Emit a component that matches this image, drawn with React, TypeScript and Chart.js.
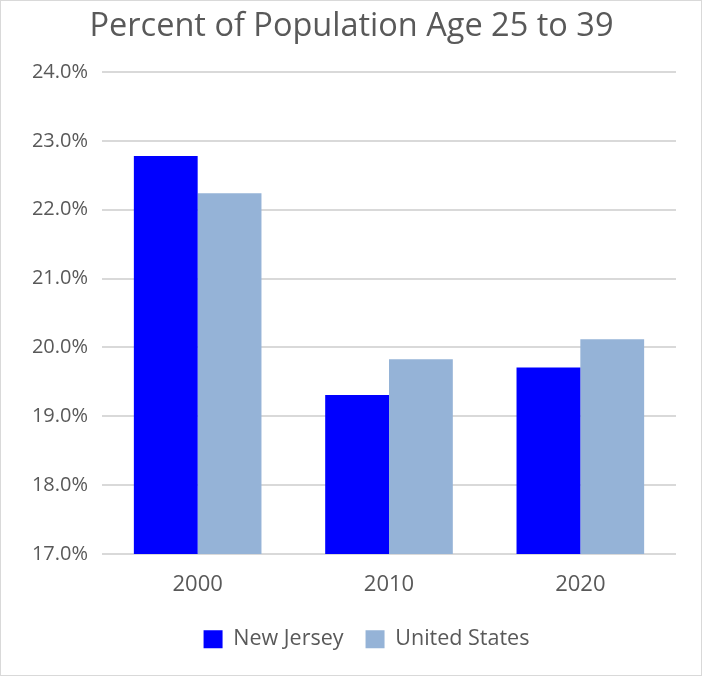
import React, { useEffect, useRef } from "react";
import { Chart, registerables } from "chart.js";

Chart.register(...registerables);

const categories = ["2000", "2010", "2020"];
const newJersey = [22.78, 19.31, 19.71];
const unitedStates = [22.24, 19.83, 20.12];
const seriesNames = ["New Jersey", "United States"];
const titleText = "Percent of Population Age 25 to 39";

const FONT = "'Open Sans', 'Noto Sans', sans-serif";
const TEXT = "#595959";

const boxShift = {
  id: "boxShift",
  afterLayout(chart: any) {
    if (chart.legend) {
      chart.legend.left += 28;
      chart.legend.right += 28;
    }
    if (chart.titleBlock) {
      chart.titleBlock.left += 13;
      chart.titleBlock.right += 13;
    }
  },
};

export default function App() {
  const ref = useRef<HTMLCanvasElement>(null);
  useEffect(() => {
    if (!ref.current) return;
    const chart = new Chart(ref.current, {
      type: "bar",
      data: {
        labels: categories,
        datasets: [
          { label: seriesNames[0], data: newJersey, backgroundColor: "#0000FF", borderWidth: 0 },
          { label: seriesNames[1], data: unitedStates, backgroundColor: "#95B3D7", borderWidth: 0 },
        ],
      },
      options: {
        animation: false,
        responsive: false,
        maintainAspectRatio: false,
        layout: { padding: { left: 0, right: 25, top: 0, bottom: 15 } },
        datasets: { bar: { categoryPercentage: 0.667, barPercentage: 1 } },
        plugins: {
          title: {
            display: true,
            text: titleText,
            color: TEXT,
            font: { family: FONT, size: 32.5, weight: "normal" },
            padding: { top: 6, bottom: 26 },
          },
          legend: {
            position: "bottom",
            labels: {
              color: TEXT,
              font: { family: FONT, size: 21.5 },
              boxWidth: 19,
              boxHeight: 18,
              padding: 22,
            },
          },
          tooltip: { enabled: false },
        },
        scales: {
          x: {
            grid: { display: false },
            border: { display: false },
            ticks: { color: TEXT, font: { family: FONT, size: 22 }, padding: 9 },
          },
          y: {
            min: 17,
            max: 24,
            afterFit: (s: any) => { s.width = 101; },
            grid: { color: "#d9d9d9", lineWidth: 2, drawTicks: false },
            border: { display: false },
            ticks: {
              stepSize: 1,
              color: TEXT,
              font: { family: FONT, size: 20 },
              padding: 14,
              callback: (v: any) => Number(v).toFixed(1) + "%",
            },
          },
        },
      },
      plugins: [boxShift],
    });
    return () => chart.destroy();
  }, []);
  return (
    <div style={{ position: "fixed", left: 0, top: 0, width: 702, height: 676, boxSizing: "border-box", border: "1px solid #d9d9d9", background: "#fff" }}>
      <canvas ref={ref} width={700} height={674} style={{ display: "block" }} />
    </div>
  );
}
